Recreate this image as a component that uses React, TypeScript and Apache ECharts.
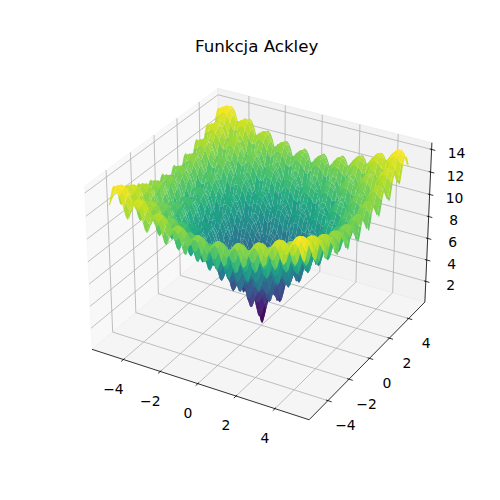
import { useEffect, useRef } from "react";
import * as echarts from "echarts";

const TITLE = "Funkcja Ackley";
const X_RANGE = [-5, 5];
const Y_RANGE = [-5, 5];
const GRID_POINTS = 100;
const SURFACE_COUNT = 50;
const X_TICKS = [-4, -2, 0, 2, 4];
const Y_TICKS = [-4, -2, 0, 2, 4];
const Z_TICKS = [2, 4, 6, 8, 10, 12, 14];
const VIRIDIS = [
  "#440154", "#482475", "#414487", "#355f8d", "#2a788e", "#21918c",
  "#22a884", "#44bf70", "#7ad151", "#bddf26", "#fde725",
];

// view of the 3d box (matplotlib defaults)
const ELEV = 30;
const AZIM = -60;
const DIST = 10;
const BOX_ASPECT = [4, 4, 3];
const DATA_MARGIN = 0.05;
const VIEW_MARGIN = 1 / 48;
const CENTER_PX = [261.4, 246.35];
const SCALE_PX = [2177, 2172];
const FONT = "DejaVu Sans";

type V3 = [number, number, number];
type P2 = [number, number];

function ackley(x: number, y: number): number {
  return (
    -20 * Math.exp(-0.2 * Math.sqrt(0.5 * (x * x + y * y))) -
    Math.exp(0.5 * (Math.cos(2 * Math.PI * x) + Math.cos(2 * Math.PI * y))) +
    Math.E +
    20
  );
}

function linspace(a: number, b: number, n: number): number[] {
  const out: number[] = [];
  for (let i = 0; i < n; i++) out.push(a + ((b - a) * i) / (n - 1));
  return out;
}

function padded(lo: number, hi: number, m: number): P2 {
  const d = (hi - lo) * m;
  return [lo - d, hi + d];
}

const xs = linspace(X_RANGE[0], X_RANGE[1], GRID_POINTS);
const ys = linspace(Y_RANGE[0], Y_RANGE[1], GRID_POINTS);
const zGrid = ys.map((y) => xs.map((x) => ackley(x, y)));

let zLo = Infinity;
let zHi = -Infinity;
zGrid.forEach((row) =>
  row.forEach((z) => {
    zLo = Math.min(zLo, z);
    zHi = Math.max(zHi, z);
  }),
);

const xBox = padded(...padded(X_RANGE[0], X_RANGE[1], DATA_MARGIN), VIEW_MARGIN);
const yBox = padded(...padded(Y_RANGE[0], Y_RANGE[1], DATA_MARGIN), VIEW_MARGIN);
const zBox = padded(zLo, zHi, VIEW_MARGIN);

// projection
const rad = Math.PI / 180;
const aspectNorm = Math.hypot(...BOX_ASPECT);
const aspect = BOX_ASPECT.map((v) => (v * 1.8294640721620434) / aspectNorm);
const ps: V3 = [
  Math.cos(ELEV * rad) * Math.cos(AZIM * rad),
  Math.cos(ELEV * rad) * Math.sin(AZIM * rad),
  Math.sin(ELEV * rad),
];
const eye = aspect.map((a, i) => a / 2 + DIST * ps[i]);
const wAx = ps;
const uRaw: V3 = [-wAx[1], wAx[0], 0];
const uLen = Math.hypot(...uRaw);
const uAx: V3 = [uRaw[0] / uLen, uRaw[1] / uLen, 0];
const vAx: V3 = [
  wAx[1] * uAx[2] - wAx[2] * uAx[1],
  wAx[2] * uAx[0] - wAx[0] * uAx[2],
  wAx[0] * uAx[1] - wAx[1] * uAx[0],
];

function project(x: number, y: number, z: number): [number, number, number] {
  const world = [
    ((x - xBox[0]) / (xBox[1] - xBox[0])) * aspect[0],
    ((y - yBox[0]) / (yBox[1] - yBox[0])) * aspect[1],
    ((z - zBox[0]) / (zBox[1] - zBox[0])) * aspect[2],
  ];
  const d = world.map((c, i) => c - eye[i]);
  const vx = uAx[0] * d[0] + uAx[1] * d[1] + uAx[2] * d[2];
  const vy = vAx[0] * d[0] + vAx[1] * d[1] + vAx[2] * d[2];
  const vz = wAx[0] * d[0] + wAx[1] * d[1] + wAx[2] * d[2];
  return [vx / -vz, vy / -vz, 10 / vz];
}

function proj2(p: V3): P2 {
  const r = project(p[0], p[1], p[2]);
  return [r[0], r[1]];
}

function viridis(t: number): string {
  const s = Math.min(Math.max(t, 0), 1) * (VIRIDIS.length - 1);
  const i = Math.min(Math.floor(s), VIRIDIS.length - 2);
  const f = s - i;
  const a = VIRIDIS[i];
  const b = VIRIDIS[i + 1];
  const ch = (h: string, k: number) => parseInt(h.slice(1 + 2 * k, 3 + 2 * k), 16);
  const mix = [0, 1, 2].map((k) => Math.round(ch(a, k) + (ch(b, k) - ch(a, k)) * f));
  return `rgb(${mix[0]},${mix[1]},${mix[2]})`;
}

// surface polygons, painter's order
const stride = Math.max(Math.ceil(GRID_POINTS / SURFACE_COUNT), 1);
const inds: number[] = [];
for (let i = 0; i < GRID_POINTS - 1; i += stride) inds.push(i);
inds.push(GRID_POINTS - 1);

type Poly = { pts: P2[]; depth: number; avg: number; color: string };
const surface: Poly[] = [];
for (let r = 0; r < inds.length - 1; r++) {
  const rs = inds[r];
  const rn = inds[r + 1];
  for (let c = 0; c < inds.length - 1; c++) {
    const cs = inds[c];
    const cn = inds[c + 1];
    const pts3: V3[] = [];
    for (let j = cs; j < cn; j++) pts3.push([xs[j], ys[rs], zGrid[rs][j]]);
    for (let i = rs; i < rn; i++) pts3.push([xs[cn], ys[i], zGrid[i][cn]]);
    for (let j = cn; j > cs; j--) pts3.push([xs[j], ys[rn], zGrid[rn][j]]);
    for (let i = rn; i > rs; i--) pts3.push([xs[cs], ys[i], zGrid[i][cs]]);
    let depth = 0;
    let avg = 0;
    const pts: P2[] = pts3.map((p) => {
      const q = project(p[0], p[1], p[2]);
      depth += q[2];
      avg += p[2];
      return [q[0], q[1]];
    });
    surface.push({ pts, depth: depth / pts3.length, avg: avg / pts3.length, color: "" });
  }
}
const avgLo = Math.min(...surface.map((p) => p.avg));
const avgHi = Math.max(...surface.map((p) => p.avg));
surface.forEach((p) => (p.color = viridis((p.avg - avgLo) / (avgHi - avgLo))));
surface.sort((a, b) => b.depth - a.depth);

// box panes
const [x0, x1] = xBox;
const [y0, y1] = yBox;
const [z0, z1] = zBox;
const panes = [
  { pts: [[x0, y0, z0], [x0, y1, z0], [x0, y1, z1], [x0, y0, z1]] as V3[], color: "rgba(242,242,242,0.5)" },
  { pts: [[x0, y1, z0], [x1, y1, z0], [x1, y1, z1], [x0, y1, z1]] as V3[], color: "rgba(230,230,230,0.5)" },
  { pts: [[x0, y0, z0], [x1, y0, z0], [x1, y1, z0], [x0, y1, z0]] as V3[], color: "rgba(236,236,236,0.5)" },
];

const gridLines: V3[][] = [
  ...X_TICKS.map((t) => [[t, y0, z0], [t, y1, z0], [t, y1, z1]] as V3[]),
  ...Y_TICKS.map((t) => [[x1, t, z0], [x0, t, z0], [x0, t, z1]] as V3[]),
  ...Z_TICKS.map((t) => [[x0, y0, t], [x0, y1, t], [x1, y1, t]] as V3[]),
];

const dX = (x1 - x0) / 12;
const dY = (y1 - y0) / 12;
const axisLines: V3[][] = [
  [[x0, y0, z0], [x1, y0, z0]],
  [[x1, y0, z0], [x1, y1, z0]],
  [[x1, y1, z0], [x1, y1, z1]],
  ...X_TICKS.map((t) => [[t, y0 + 0.1 * dY, z0], [t, y0 - 0.2 * dY, z0]] as V3[]),
  ...Y_TICKS.map((t) => [[x1 - 0.1 * dX, t, z0], [x1 + 0.2 * dX, t, z0]] as V3[]),
  ...Z_TICKS.map((t) => [[x1 - 0.1 * dX, y1, t], [x1 + 0.2 * dX, y1, t]] as V3[]),
];

const fmt = (t: number) => (t < 0 ? "\u2212" + Math.abs(t) : String(t));
const tickLabels = [
  ...X_TICKS.map((t) => ({ at: [t, y0, z0] as V3, dx: -10, dy: 29.3, text: fmt(t) })),
  ...Y_TICKS.map((t) => ({ at: [x1, t, z0] as V3, dx: 17.5, dy: 24.8, text: fmt(t) })),
  ...Z_TICKS.map((t) => ({ at: [x1, y1, t] as V3, dx: 25, dy: 3.5, text: fmt(t) })),
];

function indexData(n: number) {
  return Array.from({ length: n }, () => [0, 0]);
}

function buildOption(): echarts.EChartsOption {
  return {
    animation: false,
    backgroundColor: "#ffffff",
    title: {
      text: TITLE,
      left: 195,
      top: 38,
      padding: 0,
      textStyle: { fontFamily: FONT, fontSize: 16.67, fontWeight: "normal", color: "#000" },
    },
    grid: { left: 0, top: 0, width: 500, height: 500 },
    xAxis: {
      type: "value",
      show: false,
      min: -CENTER_PX[0] / SCALE_PX[0],
      max: (500 - CENTER_PX[0]) / SCALE_PX[0],
    },
    yAxis: {
      type: "value",
      show: false,
      min: (CENTER_PX[1] - 500) / SCALE_PX[1],
      max: CENTER_PX[1] / SCALE_PX[1],
    },
    series: [
      {
        type: "custom",
        name: "panes",
        z: 1,
        silent: true,
        data: indexData(panes.length),
        renderItem: (params: any, api: any) => {
          const p = panes[params.dataIndex];
          return {
            type: "polygon",
            shape: { points: p.pts.map((q) => api.coord(proj2(q))) },
            style: { fill: p.color, stroke: p.color, lineWidth: 1 },
          };
        },
      },
      {
        type: "custom",
        name: "grid",
        z: 2,
        silent: true,
        data: indexData(gridLines.length),
        renderItem: (params: any, api: any) => ({
          type: "polyline",
          shape: { points: gridLines[params.dataIndex].map((q) => api.coord(proj2(q))) },
          style: { stroke: "#b0b0b0", lineWidth: 0.8, fill: "none" },
        }),
      },
      {
        type: "custom",
        name: "axes",
        z: 3,
        silent: true,
        data: indexData(axisLines.length),
        renderItem: (params: any, api: any) => ({
          type: "polyline",
          shape: { points: axisLines[params.dataIndex].map((q) => api.coord(proj2(q))) },
          style: { stroke: "#000", lineWidth: 0.8, fill: "none" },
        }),
      },
      {
        type: "custom",
        name: "surface",
        z: 4,
        silent: true,
        progressive: 0,
        data: indexData(surface.length),
        renderItem: (params: any, api: any) => {
          const p = surface[params.dataIndex];
          return {
            type: "polygon",
            shape: { points: p.pts.map((q) => api.coord(q)) },
            style: { fill: p.color },
          };
        },
      },
      {
        type: "custom",
        name: "labels",
        z: 5,
        silent: true,
        data: indexData(tickLabels.length),
        renderItem: (params: any, api: any) => {
          const l = tickLabels[params.dataIndex];
          const c = api.coord(proj2(l.at));
          return {
            type: "text",
            x: c[0] + l.dx,
            y: c[1] + l.dy,
            style: {
              text: l.text,
              fill: "#000",
              fontSize: 13.9,
              fontFamily: FONT,
              align: "center",
              verticalAlign: "middle",
            },
          };
        },
      },
    ],
  } as echarts.EChartsOption;
}

export default function App() {
  const ref = useRef<HTMLDivElement | null>(null);

  useEffect(() => {
    const el = ref.current;
    if (!el) return;
    const chart = echarts.init(el, null, { renderer: "svg" });
    chart.setOption(buildOption());
    return () => chart.dispose();
  }, []);

  return (
    <div
      ref={ref}
      style={{ position: "fixed", left: 0, top: 0, width: 500, height: 500, background: "#fff" }}
    />
  );
}
